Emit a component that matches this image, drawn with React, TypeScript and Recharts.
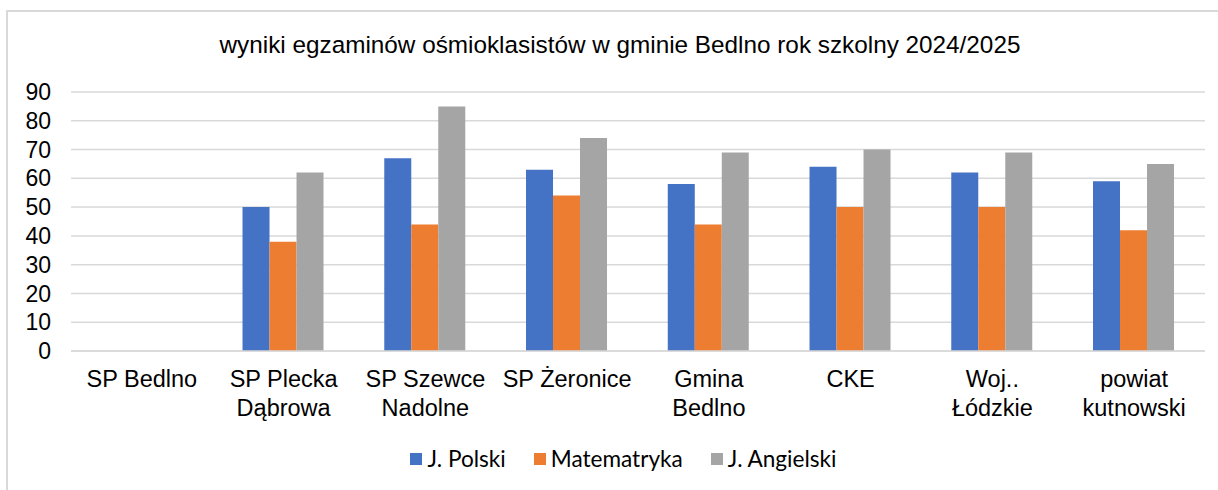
import React from "react";
import { BarChart, Bar, XAxis, YAxis, CartesianGrid, Legend } from "recharts";

const categories = [
  "SP Bedlno",
  "SP Plecka\nDąbrowa",
  "SP Szewce\nNadolne",
  "SP Żeronice",
  "Gmina\nBedlno",
  "CKE",
  "Woj..\nŁódzkie",
  "powiat\nkutnowski",
];
const seriesNames = ["J. Polski", "Matematryka", "J. Angielski"];
const polski = [null, 50, 67, 63, 58, 64, 62, 59];
const matematyka = [null, 38, 44, 54, 44, 50, 50, 42];
const angielski = [null, 62, 85, 74, 69, 70, 69, 65];
const yTicks = [0, 10, 20, 30, 40, 50, 60, 70, 80, 90];

const data = categories.map((name, i) => ({
  name,
  polski: polski[i],
  matematyka: matematyka[i],
  angielski: angielski[i],
}));

const ARIAL = "'Liberation Sans', Arial, sans-serif";

function CategoryTick(props: any) {
  const { x, y, payload } = props;
  const lines = String(payload.value).split("\n");
  return (
    <text x={x} y={y + 36} textAnchor="middle" fill="#000" fontFamily={ARIAL} fontSize={23.5}>
      {lines.map((line, i) => (
        <tspan key={i} x={x} dy={i === 0 ? 0 : 29}>
          {line}
        </tspan>
      ))}
    </text>
  );
}

function LegendContent(props: any) {
  const items = [...(props.payload || [])].sort(
    (a: any, b: any) => seriesNames.indexOf(a.value) - seriesNames.indexOf(b.value)
  );
  return (
    <div style={{ height: 30, display: "flex", justifyContent: "center", alignItems: "center", paddingLeft: 34 }}>
      {items.map((it: any, i: number) => (
        <div key={i} style={{ display: "flex", alignItems: "center", marginRight: i < items.length - 1 ? 28 : 0 }}>
          <span style={{ width: 12, height: 12, background: it.color, display: "inline-block", marginRight: 5 }} />
          <span style={{ fontFamily: "Lato, 'Open Sans', sans-serif", fontSize: 22.6, color: "#000", lineHeight: "30px" }}>
            {it.value}
          </span>
        </div>
      ))}
    </div>
  );
}

export default function App() {
  return (
    <div style={{ position: "fixed", left: 0, top: 0, width: 1218, height: 490, overflow: "hidden", background: "#fff" }}>
      <div
        style={{
          position: "absolute",
          left: 6,
          top: 10,
          width: 1228,
          height: 500,
          border: "2px solid #D9D9D9",
          boxSizing: "border-box",
        }}
      >
        <div
          style={{
            position: "absolute",
            left: 0,
            top: 20,
            width: 1224,
            textAlign: "center",
            fontFamily: ARIAL,
            fontSize: 24.3,
            lineHeight: "26px",
            color: "#000",
          }}
        >
          wyniki egzaminów ośmioklasistów w gminie Bedlno rok szkolny 2024/2025
        </div>
        <BarChart
          width={1224}
          height={486}
          data={data}
          margin={{ top: 80, right: 27, bottom: 24, left: 0 }}
          barCategoryGap="21%"
          barGap={0}
        >
          <CartesianGrid vertical={false} stroke="#D9D9D9" strokeWidth={1.5} />
          <XAxis
            dataKey="name"
            height={93}
            interval={0}
            tickSize={0}
            tickMargin={0}
            tickLine={false}
            axisLine={{ stroke: "#D9D9D9", strokeWidth: 1.5 }}
            tick={<CategoryTick />}
          />
          <YAxis
            width={63}
            domain={[0, 90]}
            ticks={yTicks}
            interval={0}
            axisLine={false}
            tickLine={false}
            tickSize={0}
            tickMargin={20}
            tick={{ fill: "#000", fontSize: 23, fontFamily: ARIAL }}
          />
          <Legend verticalAlign="bottom" height={30} content={<LegendContent />} />
          <Bar dataKey="polski" name={seriesNames[0]} fill="#4472C4" isAnimationActive={false} />
          <Bar dataKey="matematyka" name={seriesNames[1]} fill="#ED7D31" isAnimationActive={false} />
          <Bar dataKey="angielski" name={seriesNames[2]} fill="#A5A5A5" isAnimationActive={false} />
        </BarChart>
      </div>
    </div>
  );
}
